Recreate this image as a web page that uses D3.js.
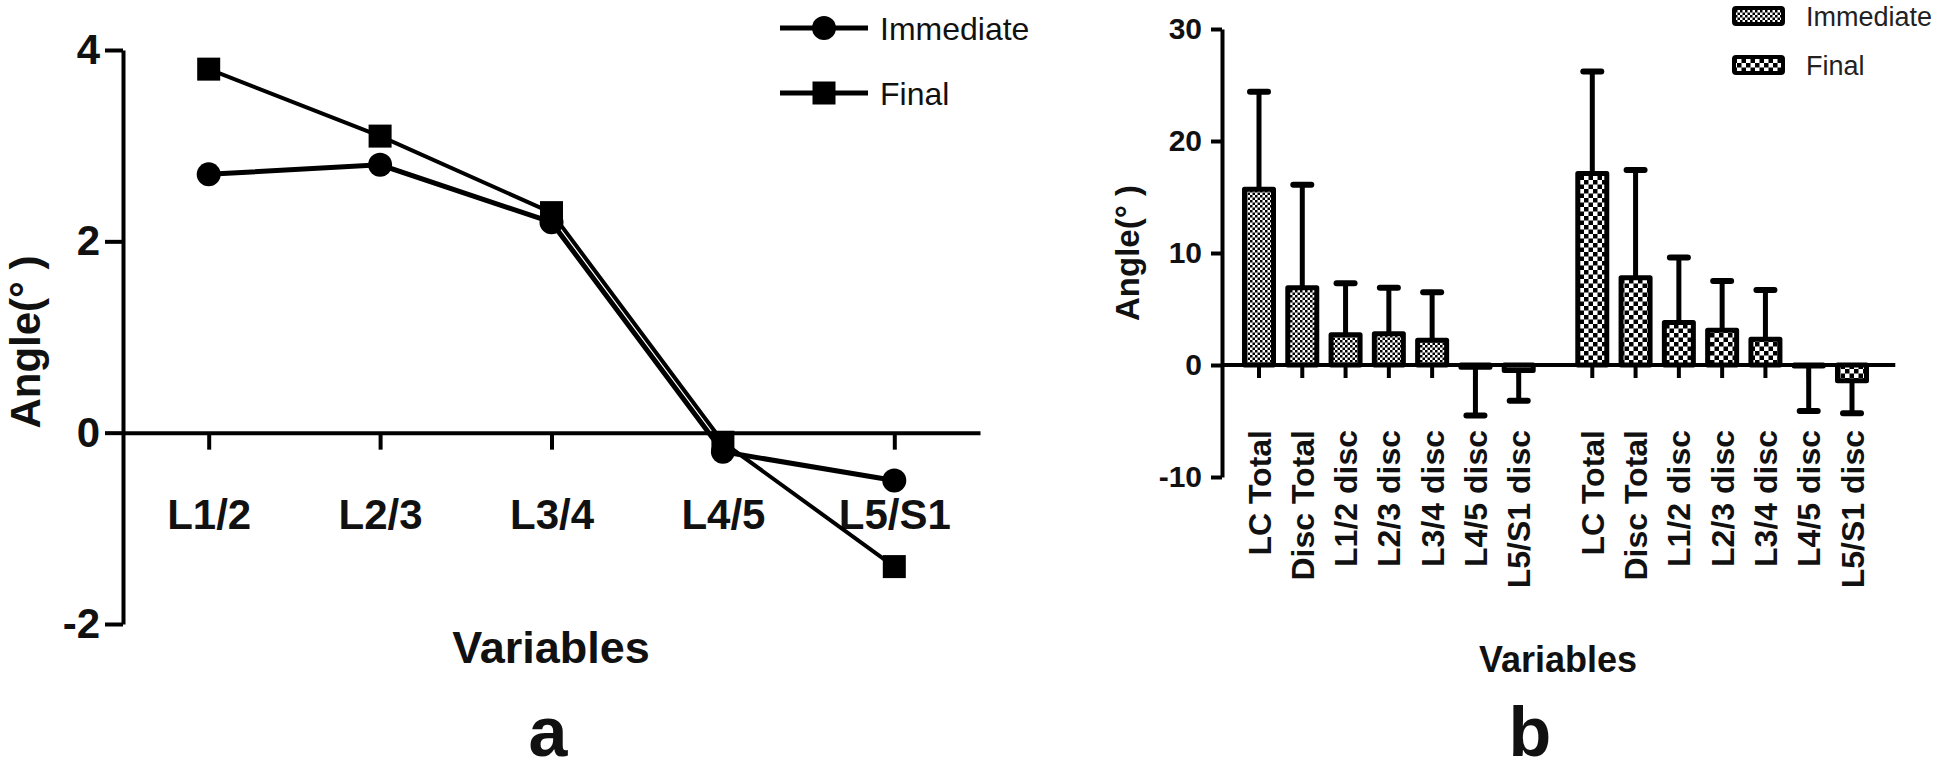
<!DOCTYPE html>
<html lang="en">
<head>
<meta charset="UTF-8">
<title>Angle chart</title>
<script src="https://cdn.jsdelivr.net/npm/d3@7/dist/d3.min.js"></script>
<style>
  body { margin: 0; background: #fff; }
  text { font-family: "Liberation Sans", Arial, sans-serif; fill: #111; }
</style>
</head>
<body>
<script>
// panel a: line chart
var lineCats = ["L1/2", "L2/3", "L3/4", "L4/5", "L5/S1"];
var lineImmediate = [2.7, 2.8, 2.2, -0.2, -0.5];
var lineFinal = [3.8, 3.1, 2.3, -0.1, -1.4];
var leftTicks = [-2, 0, 2, 4];

// panel b: bar chart with SD bars
var barCats = ["LC Total", "Disc Total", "L1/2 disc", "L2/3 disc", "L3/4 disc", "L4/5 disc", "L5/S1 disc"];
var barImmediate = [15.7, 6.9, 2.7, 2.8, 2.2, -0.2, -0.5];
var barImmediateSD = [8.7, 9.2, 4.6, 4.1, 4.3, 4.3, 2.7];
var barFinal = [17.1, 7.8, 3.8, 3.1, 2.3, -0.1, -1.4];
var barFinalSD = [9.1, 9.6, 5.8, 4.4, 4.4, 4.0, 2.9];
var rightTicks = [-10, 0, 10, 20, 30];

var seriesNames = ["Immediate", "Final"];

var width = 1943, height = 770;
var svg = d3.select("body").append("svg").attr("width", width).attr("height", height);

var defs = svg.append("defs");
var pImm = defs.append("pattern").attr("id", "pImm")
  .attr("width", 5).attr("height", 5).attr("patternUnits", "userSpaceOnUse");
pImm.append("rect").attr("width", 5).attr("height", 5).attr("fill", "#fff");
pImm.append("rect").attr("width", 2.5).attr("height", 2.5).attr("fill", "#000");
pImm.append("rect").attr("x", 2.5).attr("y", 2.5).attr("width", 2.5).attr("height", 2.5).attr("fill", "#000");
var pFin = defs.append("pattern").attr("id", "pFin")
  .attr("width", 9).attr("height", 9).attr("patternUnits", "userSpaceOnUse");
pFin.append("rect").attr("width", 9).attr("height", 9).attr("fill", "#fff");
pFin.append("rect").attr("width", 4.5).attr("height", 4.5).attr("fill", "#000");
pFin.append("rect").attr("x", 4.5).attr("y", 4.5).attr("width", 4.5).attr("height", 4.5).attr("fill", "#000");

// plain hyphen for negatives, like the original
var fmt = function(d) { return String(d); };

function styleAxis(g, w) {
  g.selectAll("path.domain").attr("stroke", "#000").attr("stroke-width", w);
  g.selectAll(".tick line").attr("stroke", "#000").attr("stroke-width", w);
}

// ---------- panel a ----------
var xA = d3.scalePoint().domain(lineCats).range([123, 980]).padding(0.5);
var yA = d3.scaleLinear().domain([-2, 4]).range([624, 50]);

var gyA = svg.append("g").attr("transform", "translate(123,0)")
  .call(d3.axisLeft(yA).tickValues(leftTicks).tickFormat(fmt)
    .tickSize(18).tickSizeOuter(0).tickPadding(5));
styleAxis(gyA, 4);
gyA.selectAll("text").attr("font-size", 42).attr("font-weight", "bold").style("fill", "#111");

var gxA = svg.append("g").attr("transform", "translate(0," + yA(0) + ")")
  .call(d3.axisBottom(xA).tickSize(17).tickSizeOuter(0).tickPadding(50));
styleAxis(gxA, 4);
gxA.selectAll("text").attr("font-size", 42).attr("font-weight", "bold").style("fill", "#111");

var line = d3.line().x(function(d, i) { return xA(lineCats[i]); }).y(function(d) { return yA(d); });
svg.append("path").datum(lineImmediate).attr("d", line)
  .attr("fill", "none").attr("stroke", "#000").attr("stroke-width", 5);
svg.append("path").datum(lineFinal).attr("d", line)
  .attr("fill", "none").attr("stroke", "#000").attr("stroke-width", 4);

svg.selectAll("circle.imm").data(lineImmediate).enter().append("circle")
  .attr("cx", function(d, i) { return xA(lineCats[i]); })
  .attr("cy", function(d) { return yA(d); })
  .attr("r", 12).attr("fill", "#000");
svg.selectAll("rect.fin").data(lineFinal).enter().append("rect")
  .attr("x", function(d, i) { return xA(lineCats[i]) - 11.5; })
  .attr("y", function(d) { return yA(d) - 11.5; })
  .attr("width", 23).attr("height", 23).attr("fill", "#000");

svg.append("text").attr("transform", "translate(40,342) rotate(-90)")
  .attr("text-anchor", "middle").attr("font-size", 42).attr("font-weight", "bold")
  .text("Angle(° )");
svg.append("text").attr("x", 551).attr("y", 663).attr("text-anchor", "middle")
  .attr("font-size", 45).attr("font-weight", "bold").text("Variables");
svg.append("text").attr("x", 548).attr("y", 756).attr("text-anchor", "middle")
  .attr("font-size", 70).attr("font-weight", "bold").text("a");

// legend a
var legA = svg.append("g");
[28, 93].forEach(function(y, k) {
  legA.append("line").attr("x1", 780).attr("x2", 868).attr("y1", y).attr("y2", y)
    .attr("stroke", "#000").attr("stroke-width", 5);
  if (k === 0) legA.append("circle").attr("cx", 824).attr("cy", y).attr("r", 12).attr("fill", "#000");
  else legA.append("rect").attr("x", 812.5).attr("y", y - 11.5).attr("width", 23).attr("height", 23).attr("fill", "#000");
  legA.append("text").attr("x", 880).attr("y", y + 12).attr("font-size", 32).text(seriesNames[k]);
});

// ---------- panel b ----------
var groupGap = 7.7;
var xB = d3.scaleLinear().domain([0, 13.7]).range([1259, 1852]);
var yB = d3.scaleLinear().domain([-10, 30]).range([477, 29]);
var barW = 29;

var gyB = svg.append("g").attr("transform", "translate(1222,0)")
  .call(d3.axisLeft(yB).tickValues(rightTicks).tickFormat(fmt)
    .tickSize(11).tickSizeOuter(0).tickPadding(9));
styleAxis(gyB, 4);
gyB.selectAll("text").attr("font-size", 30).attr("font-weight", "bold").style("fill", "#111");

var slots = [];
[barImmediate, barFinal].forEach(function(vals, g) {
  var sds = g === 0 ? barImmediateSD : barFinalSD;
  vals.forEach(function(v, i) {
    slots.push({ g: g, cat: barCats[i], v: v, sd: sds[i], s: i + g * groupGap });
  });
});

// x axis line and ticks
svg.append("line").attr("x1", 1222).attr("x2", xB(14.7)).attr("y1", yB(0)).attr("y2", yB(0))
  .attr("stroke", "#000").attr("stroke-width", 4);
svg.selectAll("line.xt").data(slots).enter().append("line")
  .attr("x1", function(d) { return xB(d.s); }).attr("x2", function(d) { return xB(d.s); })
  .attr("y1", yB(0)).attr("y2", yB(0) + 13)
  .attr("stroke", "#000").attr("stroke-width", 4);

// error bars (one-sided)
var eb = svg.selectAll("g.eb").data(slots).enter().append("g");
eb.append("line")
  .attr("x1", function(d) { return xB(d.s); }).attr("x2", function(d) { return xB(d.s); })
  .attr("y1", function(d) { return yB(d.v); })
  .attr("y2", function(d) { return yB(d.v >= 0 ? d.v + d.sd : d.v - d.sd); })
  .attr("stroke", "#000").attr("stroke-width", 5);
eb.append("line")
  .attr("x1", function(d) { return xB(d.s) - 9; }).attr("x2", function(d) { return xB(d.s) + 9; })
  .attr("y1", function(d) { return yB(d.v >= 0 ? d.v + d.sd : d.v - d.sd); })
  .attr("y2", function(d) { return yB(d.v >= 0 ? d.v + d.sd : d.v - d.sd); })
  .attr("stroke", "#000").attr("stroke-width", 6).attr("stroke-linecap", "round");

// bars
svg.selectAll("rect.bar").data(slots).enter().append("rect")
  .attr("x", function(d) { return xB(d.s) - barW / 2; })
  .attr("y", function(d) { return yB(Math.max(0, d.v)); })
  .attr("width", barW)
  .attr("height", function(d) { return Math.abs(yB(d.v) - yB(0)); })
  .attr("fill", function(d) { return d.g === 0 ? "url(#pImm)" : "url(#pFin)"; })
  .attr("stroke", "#000").attr("stroke-width", 5).attr("stroke-linejoin", "round");

// rotated category labels
svg.selectAll("text.xl").data(slots).enter().append("text")
  .attr("transform", function(d) { return "translate(" + xB(d.s) + ",430) rotate(-90)"; })
  .attr("text-anchor", "end").attr("dy", "0.36em")
  .attr("font-size", 32).attr("font-weight", "bold")
  .text(function(d) { return d.cat; });

svg.append("text").attr("transform", "translate(1139,253) rotate(-90)")
  .attr("text-anchor", "middle").attr("font-size", 33).attr("font-weight", "bold")
  .text("Angle(° )");
svg.append("text").attr("x", 1558).attr("y", 672).attr("text-anchor", "middle")
  .attr("font-size", 36).attr("font-weight", "bold").text("Variables");
svg.append("text").attr("x", 1530).attr("y", 756).attr("text-anchor", "middle")
  .attr("font-size", 70).attr("font-weight", "bold").text("b");

// legend b
[8, 57].forEach(function(y, k) {
  svg.append("rect").attr("x", 1734).attr("y", y).attr("width", 49).attr("height", 16)
    .attr("rx", 2).attr("fill", k === 0 ? "url(#pImm)" : "url(#pFin)")
    .attr("stroke", "#000").attr("stroke-width", 4);
  svg.append("text").attr("x", 1806).attr("y", y + 18).attr("font-size", 27)
    .style("fill", "#222").text(seriesNames[k]);
});
</script>
</body>
</html>
